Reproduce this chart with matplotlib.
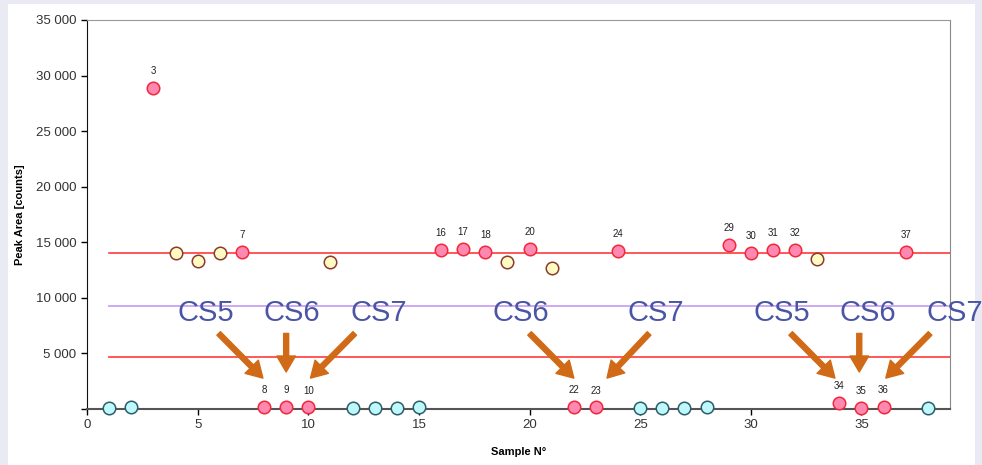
import matplotlib.pyplot as plt
from matplotlib.patches import Rectangle
import numpy as np

plt.rcParams['font.family'] = ['Liberation Sans', 'DejaVu Sans']

# peak area per sample, grouped by marker colour
pink_x = [3, 7, 8, 9, 10, 16, 17, 18, 20, 22, 23, 24, 29, 30, 31, 32, 34, 35, 36, 37]
pink_y = [28880, 14100, 200, 200, 150, 14300, 14400, 14130, 14400, 200, 150, 14220,
          14750, 14040, 14300, 14300, 540, 90, 180, 14130]
yellow_x = [4, 5, 6, 11, 19, 21, 33]
yellow_y = [14040, 13320, 14000, 13230, 13230, 12690, 13500]
cyan_x = [1, 2, 12, 13, 14, 15, 25, 26, 27, 28, 38]
cyan_y = [100, 200, 50, 50, 50, 150, 50, 50, 50, 150, 50]

# reference levels
level_hi = 14040
level_mid = 9270
level_lo = 4680

# CS callouts: label, sample pointed at, text x, arrow start x, arrow end x
cs_labels = ['CS5', 'CS6', 'CS7', 'CS6', 'CS7', 'CS5', 'CS6', 'CS7']
cs_targets = [8, 9, 10, 22, 23, 34, 35, 36]
cs_text_x = [5.35, 9.25, 13.2, 19.6, 25.7, 31.4, 35.3, 39.2]
cs_start_x = [5.95, 9.0, 12.1, 20.0, 25.4, 31.8, 34.9, 38.1]
cs_end_x = [7.95, 9.0, 10.1, 22.0, 23.5, 33.8, 34.9, 36.1]

fig = plt.figure(figsize=(9.82, 4.65), dpi=100, facecolor='#EAEAF4')
fig.patches.append(Rectangle((8 / 982, 0), 967 / 982, 461 / 465, transform=fig.transFigure,
                             facecolor='white', edgecolor='none', zorder=-5))
ax = fig.add_axes([87 / 982, 56 / 465, 863 / 982, 389 / 465])
ax.set_facecolor('white')

xs = [1, 39]
ax.plot(xs, [level_hi, level_hi], color='#FF2A2A', lw=1.1, zorder=1)
ax.plot(xs, [level_mid, level_mid], color='#C9A4F5', lw=1.3, zorder=1)
ax.plot(xs, [level_lo, level_lo], color='#FF4A4A', lw=1.3, zorder=1)

mk = dict(ms=9, mew=1.1, zorder=3, clip_on=False, ls='none', marker='o')
ax.plot(cyan_x, cyan_y, mfc='#BDF8FA', mec='#2E5D6A', **mk)
ax.plot(yellow_x, yellow_y, mfc='#FFFBC2', mec='#8A3B2E', **mk)
ax.plot(pink_x, pink_y, mfc='#FF88B0', mec='#F0283C', **mk)

for x, y in zip(pink_x, pink_y):
    ax.annotate(str(x), (x, y), xytext=(0, 8.5), textcoords='offset points',
                ha='center', va='bottom', fontsize=7, color='#222222')

for lab, t, tx, sx, ex in zip(cs_labels, cs_targets, cs_text_x, cs_start_x, cs_end_x):
    ax.text(tx, 8600, lab, ha='center', va='center', fontsize=21, color='#4A56A4',
            clip_on=False, zorder=5)
    end_y = 3330 if sx == ex else 2780
    ax.annotate('', xy=(ex, end_y), xytext=(sx, 6800),
                arrowprops=dict(facecolor='#D06A16', edgecolor='#D06A16', width=3.6,
                                headwidth=13.5, headlength=11.5, shrink=0), zorder=4)

ax.set_xlim(0, 39)
ax.set_ylim(0, 35000)
ax.set_xticks(np.arange(0, 40, 5))
yt = np.arange(0, 35001, 5000)
ax.set_yticks(yt)
ax.set_yticklabels([''] + ['{:,}'.format(v).replace(',', ' ') for v in yt[1:]])
ax.tick_params(axis='both', labelsize=9.5, labelcolor='#333333', length=4, width=1,
               direction='out')
ax.set_xlabel('Sample N°', fontsize=8, fontweight='bold', labelpad=11)
ax.set_ylabel('Peak Area [counts]', fontsize=8, fontweight='bold', labelpad=8)

ax.spines['left'].set_color('#111111')
ax.spines['bottom'].set_color('#555555')
ax.spines['bottom'].set_linewidth(1.5)
ax.spines['top'].set_color('#999999')
ax.spines['right'].set_color('#888888')

fig.savefig('out.png', dpi=100, facecolor=fig.get_facecolor())
